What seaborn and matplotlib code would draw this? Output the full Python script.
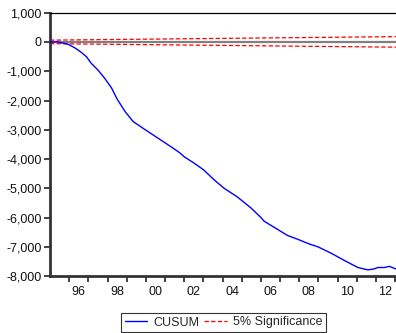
import numpy as np
import pandas as pd
import matplotlib
matplotlib.use("Agg")
import matplotlib.pyplot as plt
from matplotlib.ticker import FixedLocator, FuncFormatter, NullFormatter, FixedFormatter
import seaborn as sns

# CUSUM of recursive residuals (time in fractional years)
years = [1995.0, 1995.4, 1995.94, 1996.29, 1996.63, 1996.9, 1997.15, 1997.5,
         1997.85, 1998.2, 1998.5, 1998.92, 1999.34, 1999.86, 2000.39, 2000.9,
         2001.43, 2001.78, 2002.0, 2002.5, 2003.0, 2003.55, 2004.07, 2004.77,
         2005.47, 2006.0, 2006.17, 2006.7, 2007.4, 2007.9, 2008.5, 2009.0,
         2009.66, 2010.36, 2011.06, 2011.58, 2011.9, 2012.1, 2012.45, 2012.7,
         2013.05]
cusum = [0, 0, -80, -200, -355, -505, -730, -960,
         -1240, -1560, -1950, -2380, -2720, -2950, -3180, -3400,
         -3630, -3790, -3920, -4130, -4360, -4700, -4990, -5290,
         -5660, -5990, -6120, -6330, -6610, -6730, -6890, -7000,
         -7210, -7460, -7700, -7780, -7750, -7700, -7700, -7660,
         -7750]

# 5% significance bounds at the start and end of the sample
bound_years = [1995.0, 2013.05]
bound_upper = [60, 180]
bound_lower = [-60, -180]

yticks = [1000, 0, -1000, -2000, -3000, -4000, -5000, -6000, -7000, -8000]
year_labels = ["96", "98", "00", "02", "04", "06", "08", "10", "12"]

sns.set_style("ticks")
plt.rcParams["font.family"] = ["Liberation Sans", "DejaVu Sans"]
plt.rcParams["axes.unicode_minus"] = False

fig = plt.figure(figsize=(3.96, 3.33), dpi=100)
ax = fig.add_axes([50 / 396, 1 - 276.3 / 333, 1 - 50 / 396, (276.3 - 12.6) / 333])

ax.axhline(0, color="#808080", lw=1.6, zorder=1)

df = pd.DataFrame({"year": years, "value": cusum})
sns.lineplot(data=df, x="year", y="value", ax=ax, color="#0000FF", lw=1.0,
             label="CUSUM", zorder=3)

bdf = pd.DataFrame({"year": bound_years + bound_years,
                    "value": bound_upper + bound_lower,
                    "side": ["upper"] * 2 + ["lower"] * 2})
for i, (side, g) in enumerate(bdf.groupby("side", sort=False)):
    sns.lineplot(data=g, x="year", y="value", ax=ax, color="#FF0000", lw=0.9,
                 linestyle=(0, (3.5, 1.8)), zorder=2,
                 label="5% Significance" if i == 0 else None)

ax.set_xlim(1995.0, 2013.05)
ax.set_ylim(-8000, 1000)
ax.set_xlabel("")
ax.set_ylabel("")

ax.yaxis.set_major_locator(FixedLocator(yticks))
ax.yaxis.set_major_formatter(FuncFormatter(lambda v, p: f"{v:,.0f}"))

# year boundaries carry the ticks, labels sit in the middle of every other year
ax.xaxis.set_major_locator(FixedLocator(list(range(1996, 2014))))
ax.xaxis.set_major_formatter(NullFormatter())
label_pos = [1996.5 + 2 * i for i in range(len(year_labels))]
ax.xaxis.set_minor_locator(FixedLocator(label_pos))
ax.xaxis.set_minor_formatter(FixedFormatter(year_labels))

ax.tick_params(axis="x", which="major", direction="out", length=4, width=1.2,
               color="#222222")
ax.tick_params(axis="x", which="minor", length=0, pad=7.2, labelsize=9,
               labelcolor="#111111")
ax.tick_params(axis="y", which="major", direction="out", length=4, width=1.2,
               color="#222222", pad=2, labelsize=9, labelcolor="#111111")

for s in ["left", "bottom"]:
    ax.spines[s].set_color("#333333")
    ax.spines[s].set_linewidth(2.0)
ax.spines["top"].set_color("#000000")
ax.spines["top"].set_linewidth(0.9)
ax.spines["right"].set_visible(False)

ax.legend_.remove()
handles, labels = ax.get_legend_handles_labels()
leg = fig.legend(handles, labels, loc="center", ncol=2,
                 bbox_to_anchor=(223.5 / 396, 1 - 322.5 / 333),
                 fontsize=9, frameon=True, fancybox=False, edgecolor="#000000",
                 handlelength=1.8, handletextpad=0.5, columnspacing=0.4,
                 borderpad=0.25, borderaxespad=0)
leg.get_frame().set_linewidth(0.8)

fig.savefig("out.png", dpi=100)
